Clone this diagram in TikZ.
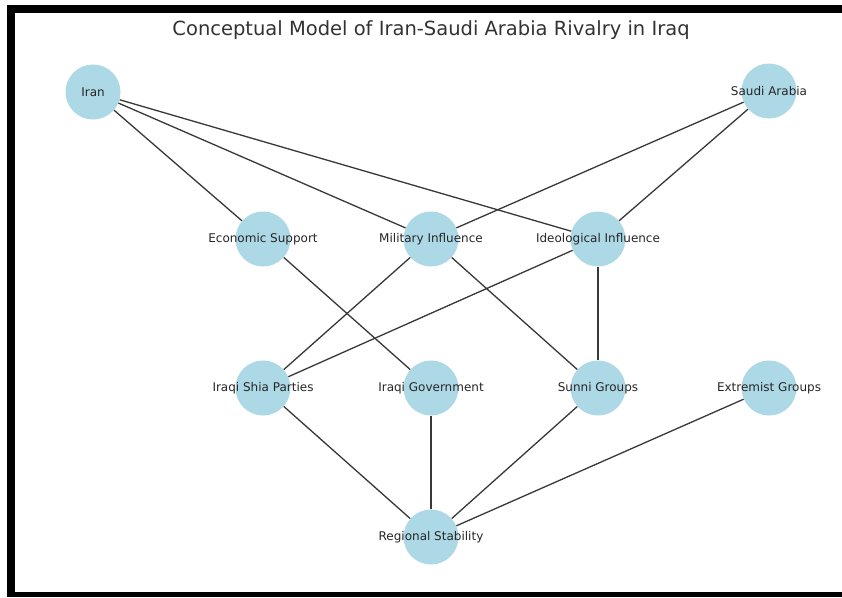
\documentclass[tikz,border=0pt]{standalone}
\usepackage{fontspec}
\setmainfont{DejaVu Sans}
\usetikzlibrary{backgrounds}
\definecolor{nodeblue}{HTML}{ADD8E6}
\definecolor{inkgray}{HTML}{262626}
\definecolor{titlegray}{HTML}{333333}
\definecolor{edgegray}{HTML}{383838}
\begin{document}
\begin{tikzpicture}[x=1pt,y=-1pt,
    actor/.style={circle,fill=nodeblue,minimum size=55pt,inner sep=0pt},
    lbl/.style={text=inkgray,font=\fontsize{12}{14}\selectfont,inner sep=0pt},
    link/.style={draw=edgegray,line width=1.3pt}]
      \useasboundingbox (0,0) rectangle (842,597);
      \node[text=titlegray,font=\fontsize{19.5}{22}\selectfont] (title) at (431,30) {Conceptual Model of Iran-Saudi Arabia Rivalry in Iraq};
      \node[actor,label={[lbl]center:Iran}] (iran) at (93,92) {};
      \node[actor,label={[lbl]center:Saudi Arabia}] (saudi) at (769,91) {};
      \node[actor,label={[lbl]center:Economic Support}] (econ) at (263,239) {};
      \node[actor,label={[lbl]center:Military Influence}] (milit) at (431,239) {};
      \node[actor,label={[lbl]center:Ideological Influence}] (ideo) at (598,239) {};
      \node[actor,label={[lbl]center:Iraqi Shia Parties}] (shia) at (263,388) {};
      \node[actor,label={[lbl]center:Iraqi Government}] (gov) at (431,388) {};
      \node[actor,label={[lbl]center:Sunni Groups}] (sunni) at (598,388) {};
      \node[actor,label={[lbl]center:Extremist Groups}] (extrem) at (769,388) {};
      \node[actor,label={[lbl]center:Regional Stability}] (stab) at (431,537) {};
      \begin{scope}[on background layer]
        \fill[white] (0,0) rectangle (842,597);
        \fill[black] (7,5) rectangle (15,597);
        \fill[black] (7,5) rectangle (842,13);
        \fill[black] (7,592) rectangle (842,597);
        \draw[link] (iran) -- (econ);
        \draw[link] (iran) -- (milit);
        \draw[link] (iran) -- (ideo);
        \draw[link] (saudi) -- (milit);
        \draw[link] (saudi) -- (ideo);
        \draw[link] (econ) -- (gov);
        \draw[link] (milit) -- (shia);
        \draw[link] (milit) -- (sunni);
        \draw[link] (ideo) -- (shia);
        \draw[link] (ideo) -- (sunni);
        \draw[link] (shia) -- (stab);
        \draw[link] (gov) -- (stab);
        \draw[link] (sunni) -- (stab);
        \draw[link] (extrem) -- (stab);
      \end{scope}
\end{tikzpicture}
\end{document}
